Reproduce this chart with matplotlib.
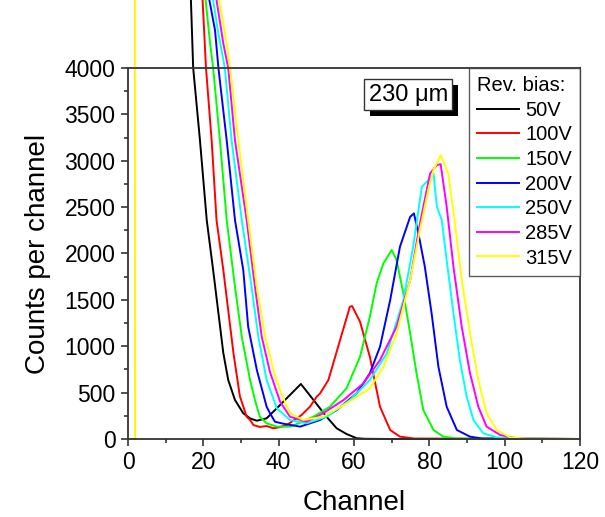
import numpy as np
import matplotlib.pyplot as plt
from matplotlib import patheffects
from matplotlib.ticker import MultipleLocator

plt.rcParams['font.family'] = ['Liberation Sans', 'DejaVu Sans']

# noise spike near channel 2 shared by all spectra
spike_ch = [0, 1.85, 1.9]
spike_counts = [0, 0, 20000]

labels = ['50V', '100V', '150V', '200V', '250V', '285V', '315V']
colors = ['#000000', '#ff0000', '#00ff00', '#0000ff', '#00ffff', '#ff00ff', '#ffff00']

ch_50 = [16, 16.7, 17.3, 19.1, 20.9, 22.6, 25.3, 26.6, 28.4, 30.6, 32.5, 34.2, 36.8, 39.5,
         42.1, 45.9, 49.6, 52.7, 55.4, 58, 60.7, 63, 70, 120]
cnt_50 = [5600, 4731, 4000, 3220, 2360, 1821, 927, 636, 420, 277, 220, 197, 223, 331,
          438, 593, 402, 240, 115, 54, 8, 2, 0, 0]

ch_100 = [19, 19.8, 20.7, 22.2, 23.5, 25.3, 28.0, 29.7, 31.5, 32.4, 33.3, 35, 36.8, 38.6,
          40, 42.1, 44.8, 46.1, 47.4, 48.3, 50.1, 51, 53.2, 56.3, 58.9, 59.5, 61.6, 64.2,
          66.9, 69.6, 72.2, 76, 120]
cnt_100 = [5700, 4731, 4000, 3220, 2360, 1821, 923, 460, 240, 205, 150, 130, 140, 115,
           125, 150, 223, 259, 312, 348, 456, 492, 636, 1067, 1426, 1433, 1264, 887,
           348, 97, 25, 5, 0]

ch_150 = [20.2, 20.6, 21.8, 22.6, 24.4, 26.2, 28.4, 30.2, 32.4, 33.7, 35, 36.8, 39.5, 43,
          46, 49.2, 53.6, 58, 61.6, 64.2, 66, 67.8, 70, 71.3, 73.1, 74.9, 76.6, 78.4,
          81.1, 83.7, 87, 120]
cnt_150 = [5400, 4731, 4264, 4000, 3220, 2360, 1641, 1102, 636, 420, 240, 169, 133, 133,
           180, 240, 348, 546, 887, 1318, 1678, 1893, 2037, 1929, 1570, 1139, 708, 312,
           97, 25, 5, 0]

ch_200 = [21, 21.6, 23.1, 24, 26.2, 28.4, 30.6, 31.9, 34.2, 36.8, 37.7, 39, 41.2, 45.7,
          51, 55.4, 60.7, 64.2, 66.9, 69.6, 72.2, 74.9, 75.9, 77.1, 78.8, 80.6, 82.4,
          84.6, 87.3, 90.8, 94, 120]
cnt_200 = [5600, 4731, 4407, 4000, 3220, 2360, 1821, 1210, 744, 348, 277, 186, 165, 133,
           205, 312, 492, 708, 995, 1498, 2073, 2395, 2432, 2216, 1857, 1354, 780,
           348, 97, 25, 5, 0]

ch_250 = [22, 22.6, 24, 25.7, 27.5, 30.2, 32.8, 34.6, 36.8, 39.5, 43, 47.4, 52.7, 58.9,
          64.2, 68.7, 73.1, 75.7, 78, 80.2, 81.1, 82, 83.3, 84.6, 86.4, 88.1, 89.9,
          91.7, 94.3, 97.9, 101, 120]
cnt_250 = [5500, 4731, 4372, 4000, 3220, 2360, 1641, 1102, 636, 330, 205, 169, 240, 420,
           636, 923, 1498, 2073, 2719, 2809, 2863, 2504, 2360, 1929, 1354, 851, 456,
           205, 61, 18, 3, 0]

ch_285 = [22.8, 23.5, 25.3, 26.6, 28.4, 31.5, 33.7, 35.5, 37.7, 40.4, 43, 47.4, 51.8,
          57.2, 62.5, 66.9, 71.3, 74.9, 77.5, 80.2, 82, 83, 84.6, 86.4, 88.6, 90.8, 93,
          95.2, 98.8, 102.3, 106, 120]
cnt_285 = [5500, 4731, 4264, 4000, 3220, 2360, 1641, 1102, 720, 400, 240, 186, 277,
           420, 600, 851, 1210, 1713, 2324, 2863, 2953, 2963, 2504, 1857, 1210, 708, 348,
           133, 43, 14, 3, 0]

ch_315 = [23.5, 24.2, 26.2, 27.1, 29.3, 31.9, 34.2, 36.4, 37.7, 38.6, 40.4, 43, 46.5,
          51.8, 58, 64.2, 67.8, 71.3, 74.9, 77.5, 79.7, 81.1, 83, 85, 86.8, 88.6, 90.8,
          93, 95.2, 97.9, 101.4, 106, 120]
cnt_315 = [5500, 4731, 4264, 4000, 3220, 2360, 1641, 1102, 900, 740, 520, 277, 205,
           240, 384, 546, 779, 1139, 1713, 2252, 2683, 2899, 3060, 2863, 2324, 1713, 1139,
           636, 277, 97, 18, 3, 0]

channels = [ch_50, ch_100, ch_150, ch_200, ch_250, ch_285, ch_315]
counts = [cnt_50, cnt_100, cnt_150, cnt_200, cnt_250, cnt_285, cnt_315]

fig = plt.figure(figsize=(6.05, 5.17), dpi=100)
ax = fig.add_axes([0.2116, 0.1509, 0.7471, 0.7176])

for ch, cnt, lab, col in zip(channels, counts, labels, colors):
    x = np.array(spike_ch + ch)
    y = np.array(spike_counts + cnt)
    ax.plot(x, y, color=col, lw=1.4, label=lab, clip_on=False)

ax.set_xlim(0, 120)
ax.set_ylim(0, 4000)
ax.xaxis.set_major_locator(MultipleLocator(20))
ax.xaxis.set_minor_locator(MultipleLocator(10))
ax.yaxis.set_major_locator(MultipleLocator(500))
ax.yaxis.set_minor_locator(MultipleLocator(250))
ax.tick_params(which='major', direction='out', length=5, width=1.2, labelsize=16.5,
               color='#333333', pad=4)
ax.tick_params(which='minor', direction='out', length=3, width=1.2, color='#333333')
for s in ax.spines.values():
    s.set_linewidth(1.3)
    s.set_color('#333333')

ax.set_xlabel('Channel', fontsize=20, labelpad=11)
ax.set_ylabel('Counts per channel', fontsize=20, labelpad=10)

leg = ax.legend(loc='upper right', bbox_to_anchor=(1, 1), borderaxespad=0,
                title='Rev. bias:', title_fontsize=14.5, fontsize=14.5,
                alignment='left', fancybox=False, edgecolor='#333333',
                handlelength=2.1, handletextpad=0.3, labelspacing=0.28,
                borderpad=0.4)
leg.get_frame().set_linewidth(1.0)
leg.set_zorder(5)

t = ax.text(0.62, 0.928, '230 μm', transform=ax.transAxes, fontsize=17,
            ha='center', va='center', zorder=6,
            bbox=dict(boxstyle='square,pad=0.18', fc='white', ec='#333333', lw=1.0))
t.get_bbox_patch().set_path_effects([
    patheffects.SimplePatchShadow(offset=(4, -4), shadow_rgbFace='black', alpha=1.0),
    patheffects.Normal()])

fig.savefig('out.png', dpi=100)
